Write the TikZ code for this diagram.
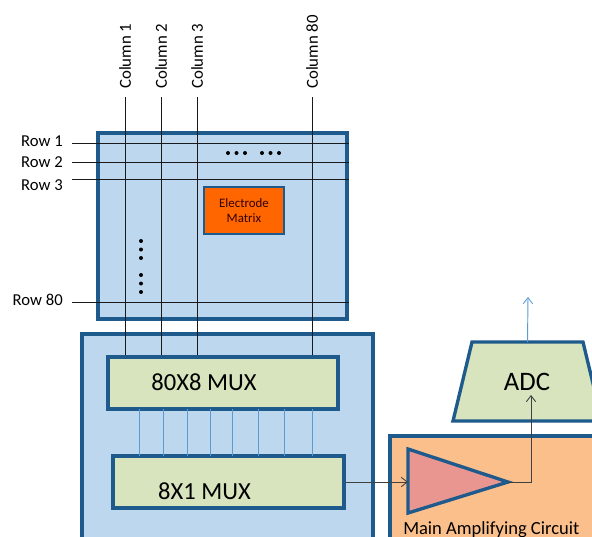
\documentclass[tikz,border=0pt]{standalone}
\usepackage{fontspec}
\setmainfont{Carlito}
\usetikzlibrary{arrows.meta}
\definecolor{bdr}{HTML}{1E5A8C}
\definecolor{lblue}{HTML}{BDD7EE}
\definecolor{lgreen}{HTML}{D7E4BD}
\definecolor{eorange}{HTML}{FF6600}
\definecolor{aorange}{HTML}{FBBF8C}
\definecolor{tripink}{HTML}{E8968F}
\definecolor{wblue}{HTML}{5B9BD5}
\definecolor{wire}{HTML}{404040}
\tikzset{
  box/.style={draw=bdr, line width=2.5pt, inner sep=0pt, rectangle},
  gridline/.style={black!90, line width=0.65pt},
  rowlab/.style={anchor=east, inner sep=0pt, font=\fontsize{12.5}{14}\selectfont},
  collab/.style={rotate=90, anchor=west, inner sep=0pt, font=\fontsize{12.6}{14}\selectfont},
  bus/.style={wblue, line width=0.75pt},
  sig/.style={wire, line width=0.7pt, -{Straight Barb[length=4.5pt,width=7pt,line width=0.65pt]}},
  dotc/.style={fill=black, circle, inner sep=0pt, minimum size=3pt},
}
\begin{document}
\begin{tikzpicture}[x=0.75pt,y=-0.75pt]
\clip (0,0) rectangle (592,536);
\fill[white] (0,0) rectangle (592,536);

% electrode matrix panel
\node[box, fill=lblue, minimum width=186.75pt, minimum height=139.5pt] (matrix) at (222.5,226) {};
\node[box, fill=eorange, line width=2pt, minimum width=60pt, minimum height=35.25pt,
      align=center, text=black!80!red, font=\fontsize{9.7}{11.5}\selectfont] (elec) at (244,210.5) {Electrode\\Matrix};

% multiplexer panel
\node[box, fill=lblue, minimum width=218.25pt, minimum height=169.5pt] (muxbg) at (227.5,447) {};
\node[box, fill=lgreen, minimum width=172.5pt, minimum height=39pt] (mux80) at (223,383) {};
\node[font=\fontsize{18.4}{20}\selectfont, inner sep=0pt] (mux80t) at (204,382) {80X8 MUX};
\node[box, fill=lgreen, minimum width=173.25pt, minimum height=39pt] (mux81) at (228.5,482) {};
\node[font=\fontsize{18.4}{20}\selectfont, inner sep=0pt] (mux81t) at (204.5,491) {8X1 MUX};

% bus between the muxes
\foreach \x in {139,163,187,210,232,258,284,312}
  \draw[bus] (\x,409) -- (\x,456);

% rows
\node[rowlab] (r1) at (63,141) {Row 1};
\node[rowlab] (r2) at (63,162) {Row 2};
\node[rowlab] (r3) at (63,185) {Row 3};
\node[rowlab] (r80) at (63,300) {Row 80};
\coordinate (r1s) at (72,143);
\coordinate (r2s) at (72,162);
\coordinate (r3s) at (72,179);
\coordinate (r80s) at (72,302);
\foreach \r in {r1s,r2s,r3s,r80s}
  \draw[gridline] (\r) -- (\r -| matrix.east);

% columns
\node[collab] (c1) at (125,89) {Column 1};
\node[collab] (c2) at (161,89) {Column 2};
\node[collab] (c3) at (197,89) {Column 3};
\node[collab] (c80) at (312,89) {Column 80};
\coordinate (c1s) at (125,97);
\coordinate (c2s) at (161,97);
\coordinate (c3s) at (197,97);
\coordinate (c80s) at (312,97);
\foreach \c in {c1s,c2s,c3s,c80s}
  \draw[gridline] (\c) -- (\c |- mux80.north);

% ellipsis dots
\foreach \x in {228,236.5,245,262,270.5,279}
  \node[dotc] at (\x,153) {};
\foreach \y in {241,249.5,258,275,283.5,292}
  \node[dotc] at (141,\y) {};

% amplifier
\node[box, fill=aorange, minimum width=172.5pt, minimum height=93pt] (ampbox) at (505,498) {};
\coordinate (ampin) at (408,482);
\coordinate (ampout) at (508,482);
\draw[draw=bdr, line width=2.5pt, fill=tripink, line join=miter]
  (408,449) -- (ampout) -- (408,513) -- cycle;
\node[anchor=base west, inner sep=0pt, font=\fontsize{13.9}{15}\selectfont] (amplab) at (403,534) {Main Amplifying Circuit};

% ADC
\coordinate (adctop) at (527.5,342);
\draw[draw=bdr, line width=2.5pt, fill=lgreen, line join=miter]
  (453,421) -- (472,342) -- (583,342) -- (602,421) -- cycle;
\node[font=\fontsize{20}{22}\selectfont, inner sep=0pt] (adc) at (527,382) {ADC};
\coordinate (adcin) at (531,395);
\coordinate (adcout) at (528,297);

% signal path
\draw[sig] (mux81.east) -- (ampin);
\draw[sig] (ampout) -| (adcin);
\draw[sig, wblue] (adctop) -- (adcout);
\end{tikzpicture}
\end{document}
